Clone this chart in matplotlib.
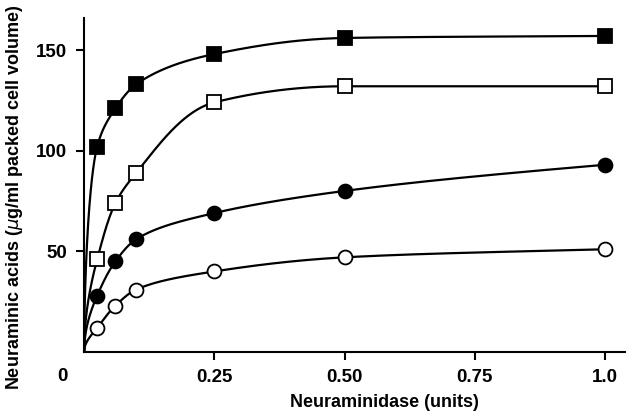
# Neuraminic acid release vs neuraminidase dose

import numpy as np
import matplotlib.pyplot as plt

plt.rcParams['font.family'] = ['Liberation Sans', 'DejaVu Sans']

# Neuraminidase doses (units), all series share them
dose = [0.025, 0.06, 0.1, 0.25, 0.5, 1.0]

# Neuraminic acids (ug/ml packed cell volume)
filled_sq = [102, 121, 133, 148, 156, 157]
open_sq = [46, 74, 89, 124, 132, 132]
filled_ci = [28, 45, 56, 69, 80, 93]
open_ci = [12, 23, 31, 40, 47, 51]

xticks = [0.25, 0.5, 0.75, 1.0]
xticklabels = ['0.25', '0.50', '0.75', '1.0']
yticks = [50, 100, 150]


def pchip(x, y, xs):
    # monotone cubic curve through the points (for the smooth drawn lines)
    x = np.asarray(x, float)
    y = np.asarray(y, float)
    h = np.diff(x)
    d = np.diff(y) / h
    m = np.zeros_like(y)
    for k in range(1, len(x) - 1):
        if d[k - 1] * d[k] > 0:
            w1 = 2 * h[k] + h[k - 1]
            w2 = h[k] + 2 * h[k - 1]
            m[k] = (w1 + w2) / (w1 / d[k - 1] + w2 / d[k])
    m[0] = d[0]
    m[-1] = d[-1]
    i = np.clip(np.searchsorted(x, xs) - 1, 0, len(h) - 1)
    t = (xs - x[i]) / h[i]
    h00 = 2 * t**3 - 3 * t**2 + 1
    h10 = t**3 - 2 * t**2 + t
    h01 = -2 * t**3 + 3 * t**2
    h11 = t**3 - t**2
    return h00 * y[i] + h10 * h[i] * m[i] + h01 * y[i + 1] + h11 * h[i] * m[i + 1]


fig = plt.figure(figsize=(6.28, 4.15), dpi=100)
ax = fig.add_axes([0.134, 0.152, 0.861, 0.805])

# interpolate on a sqrt(dose) scale so the closely spaced low doses stay smooth
us = np.linspace(0, 1.0, 800)
xs = us**2
series = [
    (filled_sq, 's', 'black'),
    (open_sq, 's', 'white'),
    (filled_ci, 'o', 'black'),
    (open_ci, 'o', 'white'),
]
for vals, mk, fc in series:
    curve = pchip(np.sqrt([0] + dose), [0] + vals, us)
    ax.plot(xs, curve, color='black', lw=1.6, zorder=2)
    ax.plot(dose, vals, linestyle='none', marker=mk, markersize=10,
            markerfacecolor=fc, markeredgecolor='black', markeredgewidth=1.3, zorder=3)

ax.set_xlim(0, 1.038)
ax.set_ylim(0, 166)
ax.spines['top'].set_visible(False)
ax.spines['right'].set_visible(False)
ax.spines['left'].set_linewidth(1.5)
ax.spines['bottom'].set_linewidth(1.5)

ax.set_xticks(xticks)
ax.set_xticklabels(xticklabels)
ax.set_yticks(yticks)
ax.tick_params(direction='out', length=6, width=1.5, labelsize=13.5, pad=6)
for lab in ax.get_xticklabels() + ax.get_yticklabels():
    lab.set_fontweight('bold')

ax.annotate('0', xy=(0, 0), xytext=(-22, -25), textcoords='offset pixels',
            ha='center', va='center', fontsize=13.5, fontweight='bold')

ax.set_xlabel('Neuraminidase (units)', fontsize=13, fontweight='bold',
              labelpad=6, x=0.555)
ax.set_ylabel('Neuraminic acids ($\\mu$g/ml packed cell volume)', fontsize=13,
              fontweight='bold', labelpad=8, y=0.464)

plt.savefig('out.png', dpi=100)
